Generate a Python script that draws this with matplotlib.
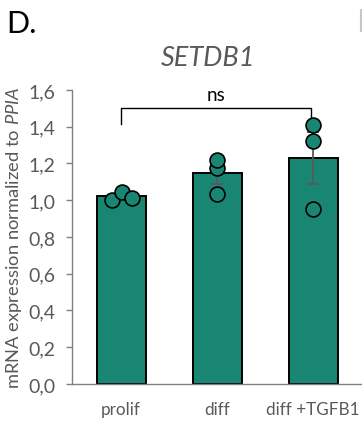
import matplotlib
matplotlib.use("Agg")
import matplotlib.pyplot as plt
from matplotlib.lines import Line2D

plt.rcParams["font.family"] = ["Lato", "DejaVu Sans"]
plt.rcParams["mathtext.fontset"] = "custom"
plt.rcParams["mathtext.it"] = "Lato:italic"
plt.rcParams["mathtext.rm"] = "Lato"

# данные
groups = ["prolif", "diff", "diff +TGFB1"]
bar_means = [1.021, 1.146, 1.228]
bar_sem = [0.013, 0.056, 0.142]
pts_prolif = [1.000, 1.044, 1.012]
pts_diff = [1.034, 1.176, 1.219]
pts_tgfb = [0.952, 1.321, 1.410]
pts_offsets = [[-0.09, 0.014, 0.11], [0.0, 0.0, 0.0], [0.0, 0.0, 0.0]]
yticks = [0.0, 0.2, 0.4, 0.6, 0.8, 1.0, 1.2, 1.4, 1.6]

TEAL = "#198673"
GREY = "#808080"
TXT = "#595959"

fig = plt.figure(figsize=(3.62, 4.27), dpi=100)
ax = fig.add_axes([0.199, 0.0984, 0.804, 0.6885])

x = list(range(len(groups)))
ax.bar(x, bar_means, width=0.51, color=TEAL, edgecolor="black", linewidth=1.4, zorder=2)
ax.errorbar(x, bar_means, yerr=bar_sem, fmt="none", ecolor="#5a5a5a",
            elinewidth=1.3, capsize=4.5, capthick=1.3, zorder=3)

for i, pts in enumerate([pts_prolif, pts_diff, pts_tgfb]):
    xs = [i + o for o in pts_offsets[i]]
    ax.scatter(xs, pts, s=115, color=TEAL, edgecolor="black", linewidth=1.2, zorder=4)

# скобка значимости
y_br = 1.50
ax.plot([0, 0, 1.98, 1.98], [1.415, y_br, y_br, 1.453], color="black", lw=1.0,
        zorder=5, clip_on=False)
ax.text(0.99, y_br + 0.03, "ns", ha="center", va="bottom", fontsize=13.5, color="black")

ax.set_xlim(-0.51, 2.52)
ax.set_ylim(0, 1.6)
ax.set_yticks(yticks)
ax.set_yticklabels([f"{v:.1f}".replace(".", ",") for v in yticks])
ax.set_xticks(x)
ax.set_xticklabels(groups)

for s in ["top", "right"]:
    ax.spines[s].set_visible(False)
for s in ["left", "bottom"]:
    ax.spines[s].set_color(GREY)
    ax.spines[s].set_linewidth(1.0)

ax.tick_params(axis="y", length=4, width=1.0, color=GREY, labelcolor=TXT,
               labelsize=14, pad=8)
ax.tick_params(axis="x", length=0, labelcolor=TXT, labelsize=12.3, pad=12)

ax.set_ylabel(r"mRNA expression normalized to $\it{PPIA}$", fontsize=13.2,
              color=TXT)
ax.yaxis.set_label_coords(-0.165, 0.5)

fig.text(0.574, 0.864, "SETDB1", ha="center", va="center", fontsize=19.5,
         style="italic", color=TXT)
fig.text(0.018, 0.944, "D.", ha="left", va="center", fontsize=22, color="black")

# край соседней панели справа
fig.add_artist(Line2D([0.998, 0.998], [0.925, 0.975], color="#c8c8c8", lw=1.5))

fig.savefig("out.png", dpi=100)
